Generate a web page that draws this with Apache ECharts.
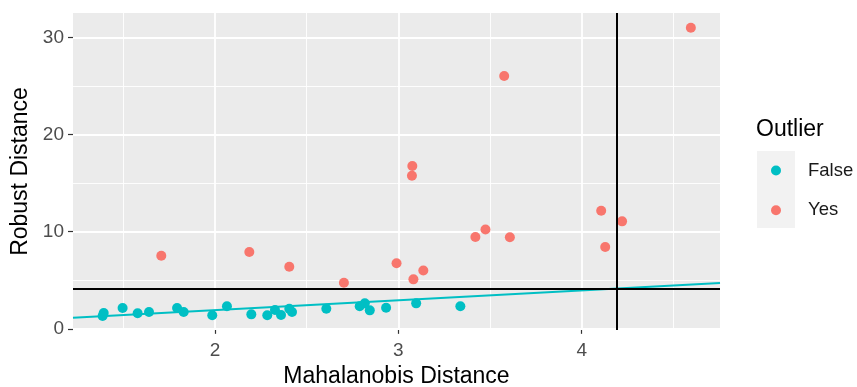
<!DOCTYPE html>
<html>
<head>
<meta charset="utf-8">
<title>Robust vs Mahalanobis distance</title>
<script src="https://cdn.jsdelivr.net/npm/echarts@6/dist/echarts.min.js"></script>
<style>
  html, body { margin: 0; padding: 0; background: #fff; }
  #chart { width: 857px; height: 387px; }
</style>
</head>
<body>
<div id="chart"></div>
<script>
// points that are not outliers
const falseX = [1.387, 1.393, 1.496, 1.578, 1.640, 1.793, 1.829, 1.985, 2.065, 2.198, 2.285,
  2.327, 2.360, 2.405, 2.420, 2.607, 2.789, 2.817, 2.844, 2.933, 3.097, 3.338];
const falseY = [1.32, 1.63, 2.14, 1.60, 1.73, 2.14, 1.73, 1.39, 2.32, 1.49, 1.39,
  1.93, 1.42, 2.07, 1.73, 2.07, 2.32, 2.62, 1.90, 2.17, 2.62, 2.32];
// outliers
const yesX = [1.707, 2.187, 2.405, 2.703, 2.990, 3.074, 3.076, 3.082, 3.136, 3.420, 3.475,
  3.577, 3.608, 4.106, 4.128, 4.220, 4.595];
const yesY = [7.52, 7.90, 6.39, 4.74, 6.74, 15.76, 16.75, 5.09, 6.00, 9.45, 10.22,
  26.02, 9.42, 12.15, 8.42, 11.06, 30.99];
// fitted line, ends at the panel edges
const fitX = [1.2255, 4.754];
const fitY = [1.14, 4.71];
// cutoffs
const cutX = 4.19;
const cutY = 4.1;
// axes
const xTicks = [2, 3, 4];
const xMinor = [1.5, 2.5, 3.5, 4.5];
const yTicks = [0, 10, 20, 30];
const yMinor = [5, 15, 25];
const groups = ['False', 'Yes'];

const font = '"Liberation Sans", Arial, sans-serif';
const teal = '#00BFC4';
const red = '#F8766D';

function pairs(xs, ys) {
  let out = [];
  for (let i = 0; i < xs.length; i++) {
    out.push([xs[i], ys[i]]);
  }
  return out;
}

// white panel grid, drawn as marklines under the points
let gridLines = [];
for (let i = 0; i < xMinor.length; i++) gridLines.push({ xAxis: xMinor[i], lineStyle: { width: 0.9 } });
for (let i = 0; i < yMinor.length; i++) gridLines.push({ yAxis: yMinor[i], lineStyle: { width: 0.9 } });
for (let i = 0; i < xTicks.length; i++) gridLines.push({ xAxis: xTicks[i], lineStyle: { width: 1.8 } });
for (let i = 0; i < yTicks.length; i++) gridLines.push({ yAxis: yTicks[i], lineStyle: { width: 1.8 } });

const tickStyle = { show: true, length: 5, lineStyle: { color: '#333333', width: 1.2 } };
const labelStyle = { fontSize: 19, color: '#4d4d4d', fontFamily: font };
const nameStyle = { fontSize: 23, color: '#000', fontFamily: font };

const myChart = echarts.init(document.getElementById('chart'));
const option = {
  animation: false,
  grid: {
    left: 73,
    right: 137,
    top: 13,
    bottom: 57,
    show: true,
    backgroundColor: '#ebebeb',
    borderWidth: 0,
    containLabel: false,
    outerBoundsMode: 'none',
  },
  title: {
    text: 'Outlier',
    left: 756,
    top: 118,
    padding: 0,
    textStyle: { fontSize: 23, fontWeight: 'normal', color: '#000', fontFamily: font },
  },
  graphic: [{
    type: 'rect',
    left: 757,
    top: 151,
    shape: { width: 38, height: 77 },
    style: { fill: '#f2f2f2' },
    z: 0,
  }],
  legend: {
    data: groups,
    orient: 'vertical',
    left: 771,
    top: 161,
    padding: 0,
    itemWidth: 10,
    itemHeight: 10,
    itemGap: 20.7,
    selectedMode: false,
    textStyle: { fontSize: 18.5, lineHeight: 18, padding: [0, 0, 0, 22], color: '#1a1a1a', fontFamily: font },
  },
  xAxis: {
    type: 'value',
    min: 1.2255,
    max: 4.754,
    name: 'Mahalanobis Distance',
    nameLocation: 'middle',
    nameGap: 30,
    nameTextStyle: nameStyle,
    axisLine: { show: false },
    axisTick: Object.assign({ customValues: xTicks }, tickStyle),
    axisLabel: Object.assign({ customValues: xTicks, margin: 11 }, labelStyle),
    splitLine: { show: false },
  },
  yAxis: {
    type: 'value',
    min: -0.12,
    max: 32.5,
    name: 'Robust Distance',
    nameLocation: 'middle',
    nameGap: 40,
    nameTextStyle: nameStyle,
    axisLine: { show: false },
    axisTick: Object.assign({ customValues: yTicks }, tickStyle),
    axisLabel: Object.assign({ customValues: yTicks, margin: 9 }, labelStyle),
    splitLine: { show: false },
  },
  series: [
    {
      name: 'panelGrid',
      type: 'scatter',
      data: [],
      z: 1,
      silent: true,
      markLine: {
        silent: true,
        z: 1,
        symbol: ['none', 'none'],
        label: { show: false },
        lineStyle: { color: '#ffffff', type: 'solid' },
        emphasis: { disabled: true },
        data: gridLines,
      },
    },
    {
      name: 'False',
      type: 'scatter',
      symbol: 'circle',
      symbolSize: 10,
      itemStyle: { color: teal, opacity: 1 },
      data: pairs(falseX, falseY),
      z: 2,
    },
    {
      name: 'Yes',
      type: 'scatter',
      symbol: 'circle',
      symbolSize: 10,
      itemStyle: { color: red, opacity: 1 },
      data: pairs(yesX, yesY),
      z: 2,
    },
    {
      name: 'fit',
      type: 'line',
      data: pairs(fitX, fitY),
      showSymbol: false,
      symbol: 'none',
      lineStyle: { color: teal, width: 2 },
      z: 3,
      silent: true,
    },
    {
      name: 'cutoff',
      type: 'scatter',
      data: [],
      z: 4,
      silent: true,
      markLine: {
        silent: true,
        z: 4,
        symbol: ['none', 'none'],
        label: { show: false },
        lineStyle: { color: '#000000', type: 'solid', width: 2 },
        emphasis: { disabled: true },
        data: [{ xAxis: cutX }, { yAxis: cutY }],
      },
    },
  ],
};
myChart.setOption(option);
</script>
</body>
</html>
